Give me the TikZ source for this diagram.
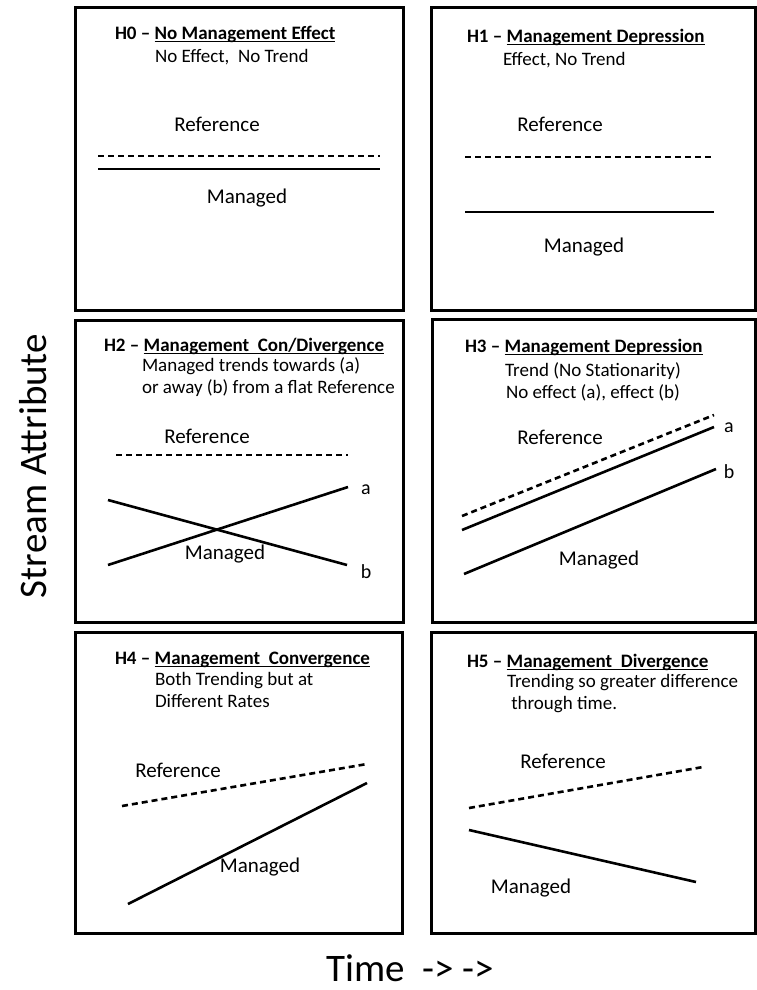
\documentclass[tikz,border=0pt]{standalone}
\usepackage{fontspec}
\setmainfont{Carlito}
\usetikzlibrary{positioning}

\newsavebox{\ulbox}
\newcommand{\ulnear}[1]{\sbox{\ulbox}{#1}\rlap{\rule[-2.6pt]{\wd\ulbox}{1.1pt}}\usebox{\ulbox}}
\newcommand{\hyptitle}[2]{\textbf{#1 -- \ulnear{#2}}}

\begin{document}
\begin{tikzpicture}[
        x=1pt,y=-1pt,
        every node/.style = {inner sep=0pt,outer sep=0pt},
        panel/.style = {draw,line width=3pt},
        lineref/.style = {dashed,dash pattern=on 6pt off 4pt,line width=2.6pt},
        linemng/.style = {line width=2.6pt},
        titletext/.style = {font=\fontsize{19}{22}\selectfont},
        subtext/.style = {font=\fontsize{19}{22}\selectfont,align=left},
        curvetext/.style = {font=\fontsize{21}{24}\selectfont},
        endtext/.style = {font=\fontsize{20}{22}\selectfont},
        axistext/.style = {font=\fontsize{39}{44}\selectfont},
        ]
        \useasboundingbox (0,0) rectangle (757,990);
        % panels
        \draw[panel] (75,8) rectangle (403,310);
        \draw[panel] (431,8) rectangle (755,310);
        \draw[panel] (75,320) rectangle (403,622);
        \draw[panel] (432,319) rectangle (755,622);
        \draw[panel] (75,632) rectangle (402,933);
        \draw[panel] (431,632) rectangle (755,933);

        % H0
        \node[titletext,anchor=west] (title-0) at (115,34) {\hyptitle{H0}{No Management Effect}};
        \node[subtext,anchor=west] (sub-0) at (155,57) {No Effect,\ \ No Trend};
        \node[curvetext] (ref-0) at (217,124) {Reference};
        \node[curvetext] (mng-0) at (247,198) {Managed};
        \coordinate (ref-0-a) at (98,156);
        \coordinate (ref-0-b) at (380,156);
        \coordinate (mng-0-a) at (98,169);
        \coordinate (mng-0-b) at (380,169);
        \draw[lineref] (ref-0-a) -- (ref-0-b);
        \draw[linemng] (mng-0-a) -- (mng-0-b);

        % H1
        \node[titletext,anchor=west] (title-1) at (467,37) {\hyptitle{H1}{Management Depression}};
        \node[subtext,anchor=west] (sub-1) at (503,60) {Effect, No Trend};
        \node[curvetext] (ref-1) at (560,124) {Reference};
        \node[curvetext] (mng-1) at (584,247) {Managed};
        \coordinate (ref-1-a) at (465,157);
        \coordinate (ref-1-b) at (714,157);
        \coordinate (mng-1-a) at (465,212);
        \coordinate (mng-1-b) at (714,212);
        \draw[lineref] (ref-1-a) -- (ref-1-b);
        \draw[linemng] (mng-1-a) -- (mng-1-b);

        % H2
        \node[titletext,anchor=west] (title-2) at (104,346) {\hyptitle{H2}{Management\ \ Con/Divergence}};
        \node[subtext,anchor=north west] (sub-2) at (142,358) {Managed trends towards (a)\\or away (b) from a flat Reference};
        \node[curvetext] (ref-2) at (207,436) {Reference};
        \node[curvetext] (mng-2) at (225,554) {Managed};
        \coordinate (ref-2-a) at (116,455);
        \coordinate (ref-2-b) at (348,455);
        \coordinate (mng-2-a1) at (108,565);
        \coordinate (mng-2-a2) at (348,487);
        \coordinate (mng-2-b1) at (108,500);
        \coordinate (mng-2-b2) at (347,565);
        \draw[lineref] (ref-2-a) -- (ref-2-b);
        \draw[linemng] (mng-2-a1) -- (mng-2-a2);
        \draw[linemng] (mng-2-b1) -- (mng-2-b2);
        \node[endtext] (end-2-a) at (366,490) {a};
        \node[endtext] (end-2-b) at (366,572) {b};

        % H3
        \node[titletext,anchor=west] (title-3) at (465,347) {\hyptitle{H3}{Management Depression}};
        \node[subtext,align=center] (sub-3) at (593,382) {Trend (No Stationarity)\\No effect (a), effect (b)};
        \node[curvetext] (ref-3) at (560,437) {Reference};
        \node[curvetext] (mng-3) at (599,560) {Managed};
        \coordinate (ref-3-a) at (462,516);
        \coordinate (ref-3-b) at (714,415);
        \coordinate (mng-3-a1) at (462,530);
        \coordinate (mng-3-a2) at (714,427);
        \coordinate (mng-3-b1) at (464,574);
        \coordinate (mng-3-b2) at (716,469);
        \draw[lineref] (ref-3-a) -- (ref-3-b);
        \draw[linemng] (mng-3-a1) -- (mng-3-a2);
        \draw[linemng] (mng-3-b1) -- (mng-3-b2);
        \node[endtext] (end-3-a) at (729,428) {a};
        \node[endtext] (end-3-b) at (729,472) {b};

        % H4
        \node[titletext,anchor=west] (title-4) at (115,660) {\hyptitle{H4}{Management\ \ Convergence}};
        \node[subtext,anchor=north west] (sub-4) at (155,672) {Both Trending but at\\Different Rates};
        \node[curvetext] (ref-4) at (178,770) {Reference};
        \node[curvetext] (mng-4) at (260,867) {Managed};
        \coordinate (ref-4-a) at (122,806);
        \coordinate (ref-4-b) at (367,764);
        \coordinate (mng-4-a) at (128,904);
        \coordinate (mng-4-b) at (367,783);
        \draw[lineref] (ref-4-a) -- (ref-4-b);
        \draw[linemng] (mng-4-a) -- (mng-4-b);

        % H5
        \node[titletext,anchor=west] (title-5) at (467,662) {\hyptitle{H5}{Management\ \ Divergence}};
        \node[subtext,anchor=north west] (sub-5) at (507,674) {Trending so greater difference\\\ through time.};
        \node[curvetext] (ref-5) at (563,761) {Reference};
        \node[curvetext] (mng-5) at (531,888) {Managed};
        \coordinate (ref-5-a) at (469,808);
        \coordinate (ref-5-b) at (703,767);
        \coordinate (mng-5-a) at (469,830);
        \coordinate (mng-5-b) at (696,882);
        \draw[lineref] (ref-5-a) -- (ref-5-b);
        \draw[linemng] (mng-5-a) -- (mng-5-b);

        % axes
        \node[axistext,rotate=90] (yaxis) at (33,466) {Stream Attribute};
        \node[axistext,anchor=base] (xaxis) at (410,981) {Time\ \ -> ->};
    \end{tikzpicture}
\end{document}
